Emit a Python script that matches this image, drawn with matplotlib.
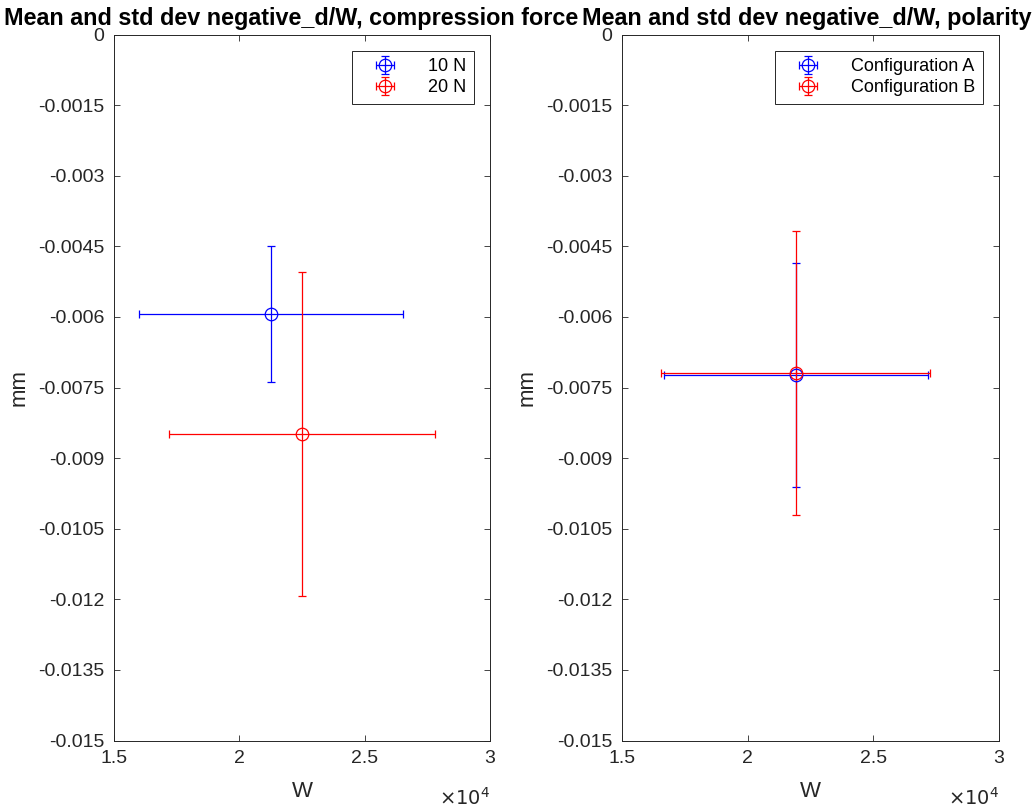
import matplotlib
matplotlib.use("Agg")
import matplotlib.pyplot as plt
import numpy as np

plt.rcParams['font.family'] = ['Liberation Sans', 'DejaVu Sans']

# Compression force panel
force_labels = ["10 N", "20 N"]
force_w_mean = [21265, 22500]
force_w_std = [5260, 5306]
force_d_mean = [-0.00593, -0.00849]
force_d_std = [0.001445, 0.003437]

# Polarity panel
pol_labels = ["Configuration A", "Configuration B"]
pol_w_mean = [21925, 21920]
pol_w_std = [5252, 5353]
pol_d_mean = [-0.007234, -0.00719]
pol_d_std = [0.002373, 0.003011]

colors = ["#0000ff", "#ff0000"]

y_ticks = [0, -0.0015, -0.003, -0.0045, -0.006, -0.0075, -0.009,
           -0.0105, -0.012, -0.0135, -0.015]
y_tick_labels = ["0", "-0.0015", "-0.003", "-0.0045", "-0.006", "-0.0075",
                 "-0.009", "-0.0105", "-0.012", "-0.0135", "-0.015"]
x_ticks = [15000, 20000, 25000, 30000]
x_tick_labels = ["1.5", "2", "2.5", "3"]

fig = plt.figure(figsize=(10.34, 8.07), dpi=100)
ax1 = fig.add_axes([114 / 1034, 66.5 / 807, 376 / 1034, 706 / 807])
ax2 = fig.add_axes([622 / 1034, 66.5 / 807, 377 / 1034, 706 / 807])

panels = [
    (ax1, force_labels, force_w_mean, force_w_std, force_d_mean, force_d_std,
     "Mean and std dev negative_d/W, compression force", 0.47),
    (ax2, pol_labels, pol_w_mean, pol_w_std, pol_d_mean, pol_d_std,
     "Mean and std dev negative_d/W, polarity", 0.49),
]

for ax, labels, wm, ws, dm, ds, title, tx in panels:
    for i in range(len(labels)):
        ax.errorbar(wm[i], dm[i], xerr=ws[i], yerr=ds[i], fmt='o',
                    color=colors[i], mfc='none', markersize=9,
                    elinewidth=0.9, capsize=3.2, capthick=0.9, mew=0.9,
                    label=labels[i])
    ax.set_xlim(15000, 30000)
    ax.set_ylim(-0.015, 0)
    ax.set_xticks(x_ticks)
    ax.set_xticklabels(x_tick_labels)
    ax.set_yticks(y_ticks)
    ax.set_yticklabels(y_tick_labels)
    ax.tick_params(direction='in', top=True, right=True, labelsize=14,
                   length=4, width=0.6, color='#262626', labelcolor='#262626',
                   pad=7)
    for s in ax.spines.values():
        s.set_linewidth(0.7)
        s.set_color('#262626')
    ax.set_xlabel("W", fontsize=16, color='#262626', labelpad=10)
    ax.set_ylabel("mm", fontsize=16, color='#262626', labelpad=6)
    ax.set_title(title, fontsize=16.8, fontweight='bold', pad=7, x=tx)
    ax.text(1.0, -0.066, r"$\times10^{4}$", transform=ax.transAxes,
            ha='right', va='top', fontsize=14, color='#262626')
    leg = ax.legend(loc='upper right', fontsize=13, fancybox=False,
                    framealpha=1, edgecolor='#262626', borderpad=0.4,
                    handlelength=2.8, handletextpad=1.0, labelspacing=0.25,
                    borderaxespad=0.9)
    leg.get_frame().set_linewidth(0.7)

fig.savefig("out.png", dpi=100)
